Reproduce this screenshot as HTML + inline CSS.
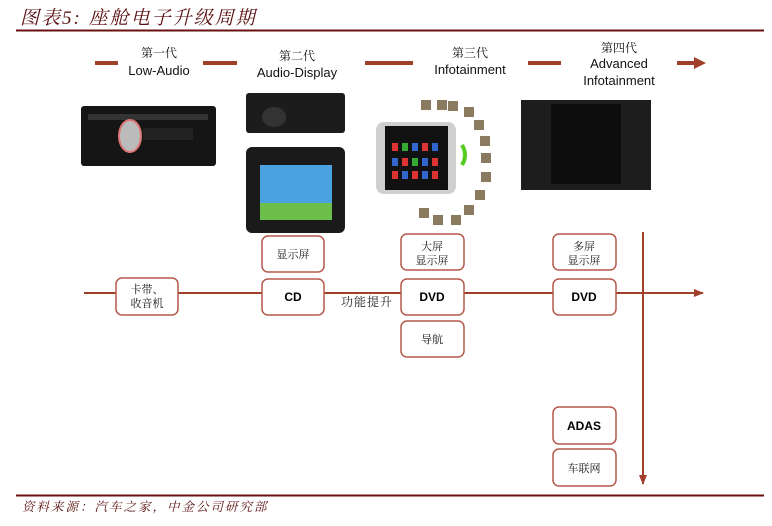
<!DOCTYPE html>
<html><head><meta charset="utf-8"><style>
body{margin:0;background:#fff;}
svg{display:block;}
.cn{font-family:"Liberation Serif","Noto Serif CJK SC",serif;}
.ln{font-family:"Liberation Sans","Noto Sans CJK SC",sans-serif;}
</style></head><body>
<svg width="772" height="526" viewBox="0 0 772 526" xmlns="http://www.w3.org/2000/svg">
<defs>
<marker id="ah" markerWidth="10" markerHeight="8" refX="9" refY="4" orient="auto" markerUnits="userSpaceOnUse"><path d="M0,0 L10,4 L0,8 Z" fill="#a0402a"/></marker>
</defs>
<text x="20" y="24" class="cn" font-size="19" font-style="italic" fill="#5a1010" letter-spacing="2">图表5: 座舱电子升级周期</text>
<line x1="16" y1="30.5" x2="764" y2="30.5" stroke="#6b1010" stroke-width="2"/>

<g stroke="#a0402a" stroke-width="4">
<line x1="95" y1="63" x2="118" y2="63"/>
<line x1="203" y1="63" x2="237" y2="63"/>
<line x1="365" y1="63" x2="413" y2="63"/>
<line x1="528" y1="63" x2="561" y2="63"/>
<line x1="677" y1="63" x2="696" y2="63"/>
</g>
<path d="M694,57 L706,63 L694,69 Z" fill="#a0402a"/>
<g text-anchor="middle" fill="#111">
<text x="159" y="57" class="cn" font-size="12">第一代</text>
<text x="159" y="75" class="ln" font-size="13">Low-Audio</text>
<text x="297" y="60" class="cn" font-size="12">第二代</text>
<text x="297" y="77" class="ln" font-size="13">Audio-Display</text>
<text x="470" y="57" class="cn" font-size="12">第三代</text>
<text x="470" y="74" class="ln" font-size="13">Infotainment</text>
<text x="619" y="52" class="cn" font-size="12">第四代</text>
<text x="619" y="68" class="ln" font-size="13">Advanced</text>
<text x="619" y="85" class="ln" font-size="13">Infotainment</text>
</g>

<rect x="81" y="106" width="135" height="60" rx="3" fill="#151515"/>
<rect x="88" y="114" width="120" height="6" fill="#333"/>
<ellipse cx="130" cy="136" rx="11" ry="16" fill="#bbb" stroke="#d77" stroke-width="2"/>
<rect x="143" y="128" width="50" height="12" fill="#222"/>
<rect x="246" y="93" width="99" height="40" rx="3" fill="#1c1c1c"/>
<ellipse cx="274" cy="117" rx="12" ry="10" fill="#333"/>
<rect x="246" y="147" width="99" height="86" rx="6" fill="#1a1a1a"/>
<rect x="260" y="165" width="72" height="55" fill="#4aa3e0"/>
<rect x="260" y="203" width="72" height="17" fill="#6cbf4a"/>
<rect x="376" y="122" width="80" height="72" rx="8" fill="#cfcfcf"/>
<rect x="385" y="126" width="63" height="64" fill="#111"/>
<g fill="#d33"><rect x="392" y="143" width="6" height="8"/><rect x="402" y="143" width="6" height="8" fill="#3a3"/><rect x="412" y="143" width="6" height="8" fill="#36c"/><rect x="422" y="143" width="6" height="8"/><rect x="432" y="143" width="6" height="8" fill="#36c"/>
<rect x="392" y="158" width="6" height="8" fill="#36c"/><rect x="402" y="158" width="6" height="8"/><rect x="412" y="158" width="6" height="8" fill="#3a3"/><rect x="422" y="158" width="6" height="8" fill="#36c"/><rect x="432" y="158" width="6" height="8"/>
<rect x="392" y="171" width="6" height="8"/><rect x="402" y="171" width="6" height="8" fill="#36c"/><rect x="412" y="171" width="6" height="8"/><rect x="422" y="171" width="6" height="8" fill="#36c"/><rect x="432" y="171" width="6" height="8"/></g>
<g fill="#8a7a60"><rect x="421" y="100" width="10" height="10"/><rect x="437" y="100" width="10" height="10"/><rect x="448" y="101" width="10" height="10"/><rect x="464" y="107" width="10" height="10"/><rect x="474" y="120" width="10" height="10"/><rect x="480" y="136" width="10" height="10"/><rect x="481" y="153" width="10" height="10"/><rect x="481" y="172" width="10" height="10"/><rect x="475" y="190" width="10" height="10"/><rect x="464" y="205" width="10" height="10"/><rect x="451" y="215" width="10" height="10"/><rect x="433" y="215" width="10" height="10"/><rect x="419" y="208" width="10" height="10"/></g>
<path d="M462,145 q6,10 0,20" stroke="#5c2" stroke-width="4" fill="none"/>
<rect x="521" y="100" width="130" height="90" fill="#1d1d1d"/>
<rect x="551" y="104" width="70" height="80" fill="#0d0d0d"/>

<line x1="84" y1="293" x2="703" y2="293" stroke="#a0402a" stroke-width="2" marker-end="url(#ah)"/>
<line x1="643" y1="232" x2="643" y2="484" stroke="#a0402a" stroke-width="2" marker-end="url(#ah)"/>

<g fill="#fff" stroke="#b5584a" stroke-width="1.5">
<rect x="116" y="278" width="62" height="37" rx="6"/>
<rect x="262" y="236" width="62" height="36" rx="6"/>
<rect x="262" y="279" width="62" height="36" rx="6"/>
<rect x="401" y="234" width="63" height="36" rx="6"/>
<rect x="401" y="279" width="63" height="36" rx="6"/>
<rect x="401" y="321" width="63" height="36" rx="6"/>
<rect x="553" y="234" width="63" height="36" rx="6"/>
<rect x="553" y="279" width="63" height="36" rx="6"/>
<rect x="553" y="407" width="63" height="37" rx="6"/>
<rect x="553" y="449" width="63" height="37" rx="6"/>
</g>
<g text-anchor="middle" fill="#111" font-size="11" class="cn">
<text x="147" y="293">卡带、</text>
<text x="147" y="307">收音机</text>
<text x="293" y="258">显示屏</text>
<text x="432" y="250">大屏</text>
<text x="432" y="264">显示屏</text>
<text x="432" y="343">导航</text>
<text x="584" y="250">多屏</text>
<text x="584" y="264">显示屏</text>
<text x="584" y="472">车联网</text>
</g>
<text x="367" y="306" text-anchor="middle" class="cn" font-size="12" fill="#222" letter-spacing="1">功能提升</text>
<g text-anchor="middle" fill="#000" font-size="12" font-weight="bold" class="ln">
<text x="293" y="301">CD</text>
<text x="432" y="301">DVD</text>
<text x="584" y="301">DVD</text>
<text x="584" y="430">ADAS</text>
</g>

<line x1="16" y1="495.5" x2="764" y2="495.5" stroke="#6b1010" stroke-width="2"/>
<text x="22" y="511" class="cn" font-size="12.5" font-style="italic" fill="#5a1010" letter-spacing="2">资料来源：汽车之家，中金公司研究部</text>
</svg>
</body></html>
